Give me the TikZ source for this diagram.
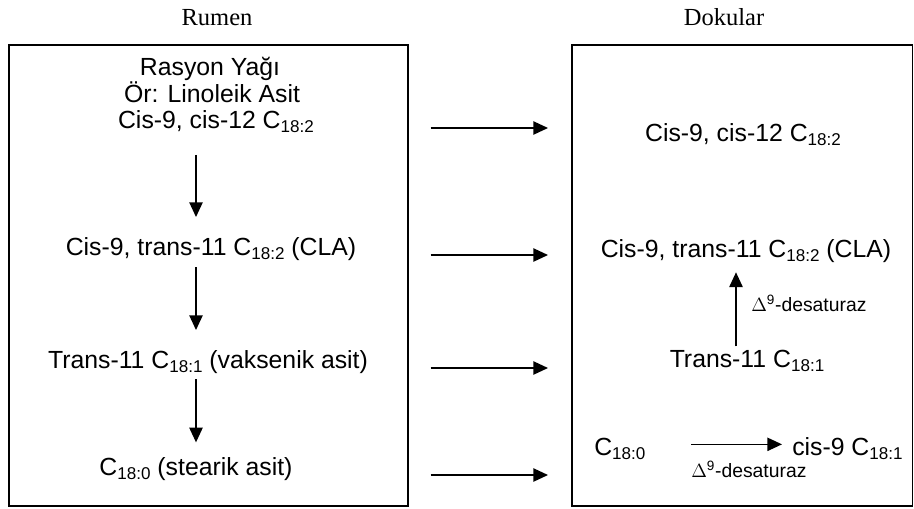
\documentclass[tikz,border=0pt]{standalone}
\usepackage{fontspec}
\setmainfont{Liberation Serif}
\newfontfamily\arialf{Liberation Sans}
\usetikzlibrary{arrows.meta}
\newcommand{\lowr}[1]{\raisebox{-3.5pt}{\fontsize{12.8}{13}\selectfont #1}}
\tikzset{
  txt/.style={font=\arialf\fontsize{18.6}{20}\selectfont, inner sep=0pt, text height=13.3pt, text depth=4pt, anchor=base},
  enz/.style={font=\arialf\fontsize{14.5}{16}\selectfont, inner sep=0pt, anchor=base west},
  ttl/.style={font=\fontsize{18.4}{20}\selectfont, inner sep=0pt, anchor=base},
  arr/.style={line width=1pt, -{Triangle[length=11pt,width=10pt]}},
  boxline/.style={line width=1.4pt}
}
\begin{document}
\begin{tikzpicture}[x=0.75pt,y=-0.75pt]
  \useasboundingbox (0,0) rectangle (914,508);
  % titles
  \node[ttl] (rumen) at (217,25) {Rumen};
  \node[ttl] (doku) at (724,25) {Dokular};
  % boxes
  \draw[boxline] (9,45) rectangle (408,506) coordinate (rumSE);
  \draw[boxline] (572,45) coordinate (dokNW) rectangle (912.5,506);
  % rumen side
  \node[txt] (rasyon) at (210,75) {Rasyon Yağı};
  \node[txt] (ornek) at (212,102) {Ör: Linoleik Asit};
  \node[txt] (lin) at (216,128) {Cis-9, cis-12 C\lowr{18:2}};
  \node[txt] (cla) at (211,255) {Cis-9, trans-11 C\lowr{18:2} (CLA)};
  \node[txt] (vak) at (208,368) {Trans-11 C\lowr{18:1} (vaksenik asit)};
  \node[txt] (ste) at (196,475) {C\lowr{18:0} (stearik asit)};
  \coordinate (axl) at (196,0);
  \draw[arr, shorten <=16pt, shorten >=15pt] (lin.south -| axl) -- (cla.north -| axl);
  \draw[arr, shorten <=5pt, shorten >=15pt] (cla.south -| axl) -- (vak.north -| axl);
  \draw[arr, shorten <=4.3pt, shorten >=11pt] (vak.south -| axl) -- (ste.north -| axl);
  % dokular side
  \node[txt] (dlin) at (743,141) {Cis-9, cis-12 C\lowr{18:2}};
  \node[txt] (dcla) at (746,257) {Cis-9, trans-11 C\lowr{18:2} (CLA)};
  \node[txt] (dvak) at (747,367) {Trans-11 C\lowr{18:1}};
  \node[txt, anchor=base west] (dste) at (594,455) {C\lowr{18:0}};
  \node[txt, anchor=base west] (dcis) at (792,455) {cis-9 C\lowr{18:1}};
  \node[enz] (des1) at (751,311) {$\Delta$\textsuperscript{9}-desaturaz};
  \node[enz] (des2) at (691,477) {$\Delta$\textsuperscript{9}-desaturaz};
  \coordinate (axr) at (736,0);
  \draw[arr, shorten <=2pt, shorten >=7.3pt] (dvak.north -| axr) -- (dcla.south -| axr);
  \draw[arr, shorten <=34pt, shorten >=7.5pt] ([yshift=8pt]dste.base east) -- ([yshift=8pt]dcis.base west);
  % rumen to dokular
  \foreach \n in {lin,cla,vak,ste}
    \draw[arr, shorten <=17pt, shorten >=18pt] (\n.base -| rumSE) -- (\n.base -| dokNW);
\end{tikzpicture}
\end{document}
